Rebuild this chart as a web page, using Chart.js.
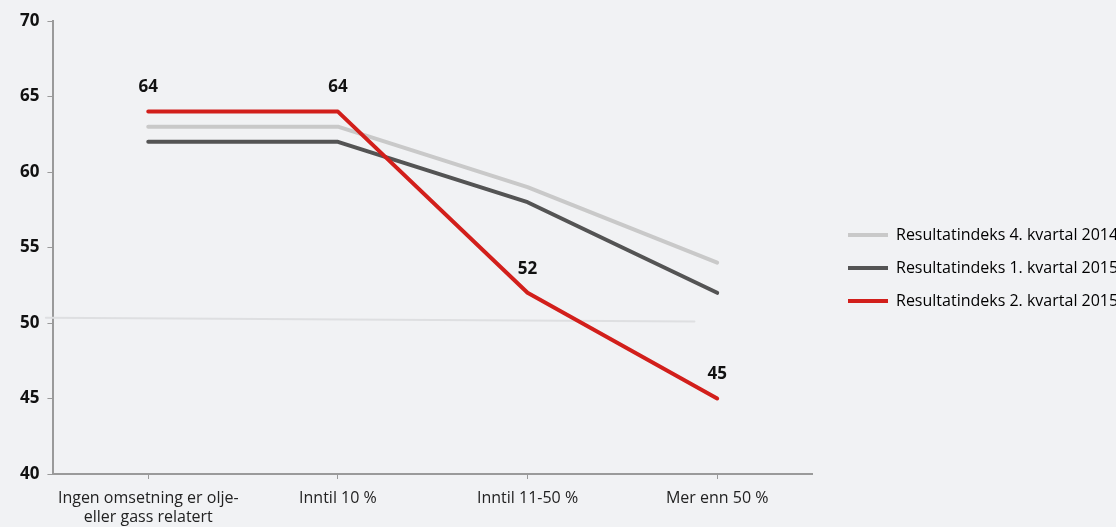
<!DOCTYPE html>
<html>
<head>
<meta charset="utf-8">
<script src="https://cdn.jsdelivr.net/npm/chart.js@4.4.0/dist/chart.umd.min.js"></script>
<style>
  html, body { margin: 0; padding: 0; background: #f1f2f4; overflow: hidden; }
  #wrap { position: relative; width: 1116px; height: 527px; }
</style>
</head>
<body>
<div id="wrap"><canvas id="lineChart"></canvas></div>
<script>
const categories = [
  ["Ingen omsetning er olje-", "eller gass relatert"],
  "Inntil 10 %",
  "Inntil 11-50 %",
  "Mer enn 50 %"
];
const seriesNames = [
  "Resultatindeks 4. kvartal 2014",
  "Resultatindeks 1. kvartal 2015",
  "Resultatindeks 2. kvartal 2015"
];
const q4_2014 = [63, 63, 59, 54];
const q1_2015 = [62, 62, 58, 52];
const q2_2015 = [64, 64, 52, 45];
const seriesColors = ["#c9c9c9", "#545454", "#d21f1b"];
// faint stray line seen across the plot near 50
const faintLine = [{ x: -0.54, y: 50.35 }, { x: 2.88, y: 50.1 }];
const yTicks = [40, 45, 50, 55, 60, 65, 70];

const ctx = document.getElementById("lineChart");

// value labels over the red series
const redLabels = {
  id: "redLabels",
  afterDatasetsDraw(chart) {
    const meta = chart.getDatasetMeta(2);
    const c = chart.ctx;
    c.save();
    c.font = "bold 17px 'Open Sans'";
    c.fillStyle = "#111";
    c.textAlign = "center";
    c.textBaseline = "middle";
    meta.data.forEach((pt, i) => {
      c.fillText(String(q2_2015[i]), pt.x, pt.y - 24);
    });
    c.restore();
  }
};

// nudge the legend block up a little
const legendNudge = {
  id: "legendNudge",
  afterLayout(chart) {
    chart.legend.top -= 6;
    chart.legend.bottom -= 6;
  }
};

new Chart(ctx, {
  type: "line",
  data: {
    labels: categories,
    datasets: [
      { label: seriesNames[0], data: q4_2014, borderColor: seriesColors[0], order: 3 },
      { label: seriesNames[1], data: q1_2015, borderColor: seriesColors[1], order: 2 },
      { label: seriesNames[2], data: q2_2015, borderColor: seriesColors[2], order: 1 },
      {
        label: "faint",
        data: faintLine,
        xAxisID: "x2",
        borderColor: "#dedfe1",
        borderWidth: 2,
        clip: false,
        order: 4
      }
    ]
  },
  options: {
    responsive: true,
    maintainAspectRatio: false,
    animation: false,
    layout: { padding: { left: 12, top: 21, bottom: 0, right: 0 } },
    elements: {
      line: { borderWidth: 4, tension: 0, borderCapStyle: "round", borderJoinStyle: "round" },
      point: { radius: 0, hoverRadius: 0 }
    },
    scales: {
      x: {
        offset: true,
        afterFit(axis) { axis.height = 53; },
        grid: { drawOnChartArea: false, color: "#9a9a9a", tickLength: 5, tickColor: "#9a9a9a" },
        border: { color: "#9a9a9a", width: 2 },
        ticks: { color: "#222", font: { family: "'Open Sans'", size: 16, lineHeight: 1.2 }, maxRotation: 0, padding: 10 }
      },
      x2: {
        type: "linear",
        display: false,
        min: -0.5,
        max: 3.5
      },
      y: {
        min: 40,
        max: 70,
        afterBuildTicks(axis) { axis.ticks = yTicks.map((v) => ({ value: v })); },
        grid: { drawOnChartArea: false, color: "#9a9a9a", tickLength: 6, tickColor: "#9a9a9a" },
        border: { color: "#9a9a9a", width: 2 },
        ticks: { color: "#111", font: { family: "'Open Sans'", size: 17, weight: "bold" }, padding: 8 }
      },
      // empty spacer between plot and legend
      gap: {
        position: "right",
        min: 0,
        max: 1,
        grid: { display: false },
        border: { display: false },
        ticks: { display: false },
        afterFit(axis) { axis.width = 19; }
      }
    },
    plugins: {
      tooltip: { enabled: false },
      legend: {
        position: "right",
        maxWidth: 285,
        labels: {
          color: "#222",
          font: { family: "'Open Sans'", size: 16 },
          boxWidth: 40,
          boxHeight: 4,
          padding: 17,
          generateLabels(chart) {
            return seriesNames.map((name, i) => ({
              text: name,
              fillStyle: seriesColors[i],
              strokeStyle: seriesColors[i],
              lineWidth: 0,
              datasetIndex: i
            }));
          }
        }
      }
    }
  },
  plugins: [redLabels, legendNudge]
});
</script>
</body>
</html>
